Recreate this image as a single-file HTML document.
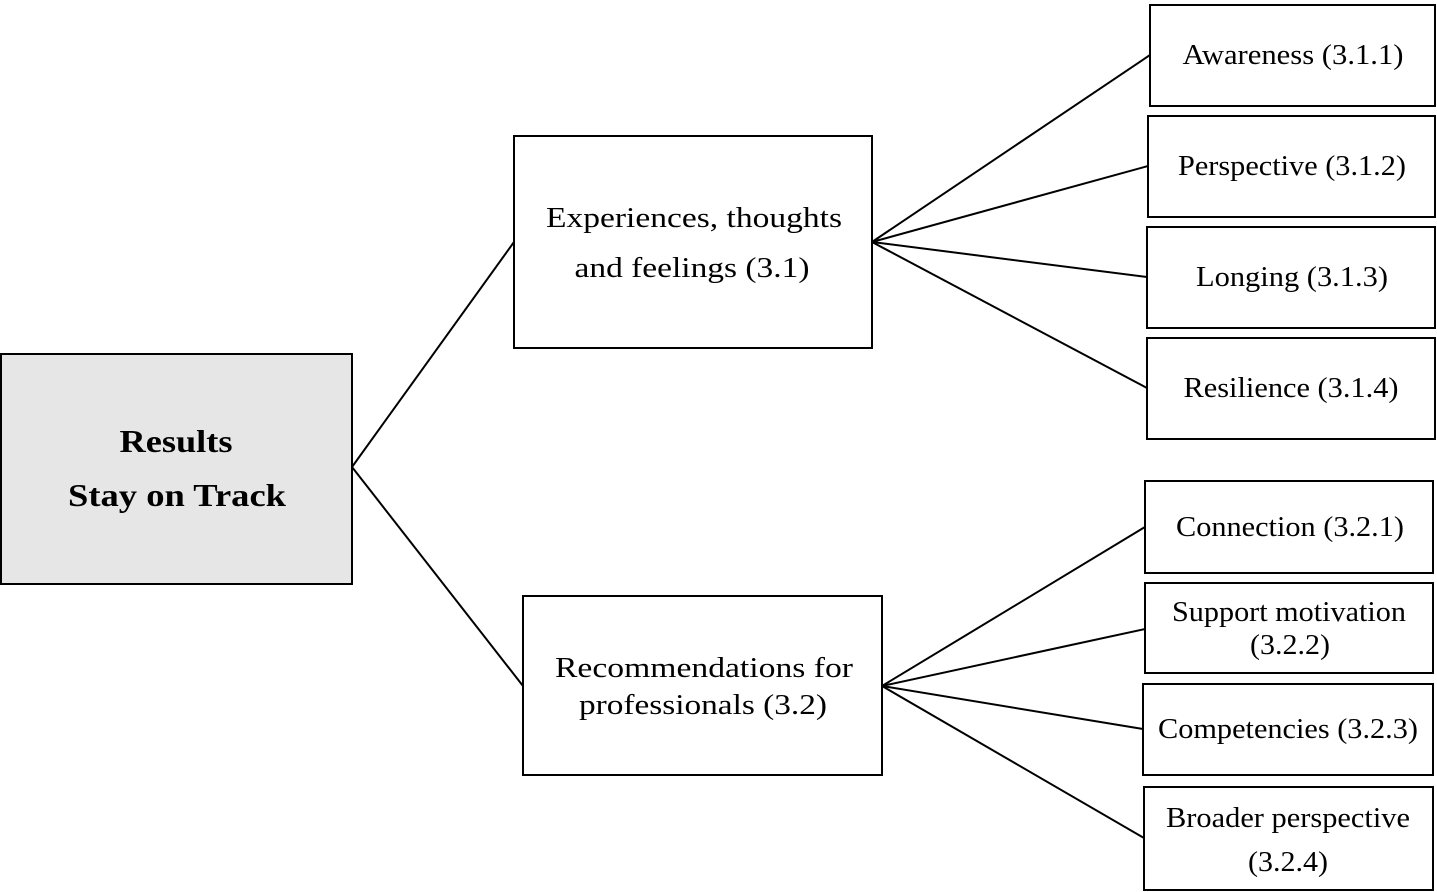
<!DOCTYPE html>
<html><head><meta charset="utf-8"><style>
html,body{margin:0;padding:0;background:#fff;}
svg{display:block;}
text{font-family:"Liberation Serif",serif;font-size:28px;fill:#000;}
</style></head><body>
<svg width="1437" height="892" viewBox="0 0 1437 892" xmlns="http://www.w3.org/2000/svg">
<g stroke="#000" stroke-width="2" fill="none">
<line x1="352" y1="467" x2="514" y2="242"/>
<line x1="352" y1="467" x2="523" y2="686"/>
<line x1="872" y1="242" x2="1150" y2="55"/>
<line x1="872" y1="242" x2="1148" y2="166"/>
<line x1="872" y1="242" x2="1147" y2="277"/>
<line x1="872" y1="242" x2="1147" y2="388"/>
<line x1="882" y1="686" x2="1145" y2="527"/>
<line x1="882" y1="686" x2="1145" y2="629"/>
<line x1="882" y1="686" x2="1143" y2="729"/>
<line x1="882" y1="686" x2="1144" y2="838"/>
</g>
<g stroke="#000" stroke-width="2">
<rect x="1" y="354" width="351" height="230" fill="#e6e6e6"/>
<rect x="514" y="136" width="358" height="212" fill="#fff"/>
<rect x="523" y="596" width="359" height="179" fill="#fff"/>
<rect x="1150" y="5" width="285" height="101" fill="#fff"/>
<rect x="1148" y="116" width="287" height="101" fill="#fff"/>
<rect x="1147" y="227" width="288" height="101" fill="#fff"/>
<rect x="1147" y="338" width="288" height="101" fill="#fff"/>
<rect x="1145" y="481" width="288" height="92" fill="#fff"/>
<rect x="1145" y="583" width="288" height="90" fill="#fff"/>
<rect x="1143" y="684" width="290" height="91" fill="#fff"/>
<rect x="1144" y="787" width="289" height="103" fill="#fff"/>
</g>
<g text-anchor="middle" lengthAdjust="spacingAndGlyphs">
<text x="176" y="452" style="font-weight:bold;font-size:32px" textLength="113" lengthAdjust="spacingAndGlyphs">Results</text>
<text x="177" y="506" style="font-weight:bold;font-size:32px" textLength="218" lengthAdjust="spacingAndGlyphs">Stay on Track</text>
<text x="694" y="227" textLength="296" lengthAdjust="spacingAndGlyphs">Experiences, thoughts</text>
<text x="692" y="277" textLength="235" lengthAdjust="spacingAndGlyphs">and feelings (3.1)</text>
<text x="704" y="677" textLength="298" lengthAdjust="spacingAndGlyphs">Recommendations for</text>
<text x="703" y="714" textLength="248" lengthAdjust="spacingAndGlyphs">professionals (3.2)</text>
<text x="1293" y="64" textLength="221" lengthAdjust="spacingAndGlyphs">Awareness (3.1.1)</text>
<text x="1292" y="175" textLength="228" lengthAdjust="spacingAndGlyphs">Perspective (3.1.2)</text>
<text x="1292" y="286" textLength="192" lengthAdjust="spacingAndGlyphs">Longing (3.1.3)</text>
<text x="1291" y="397" textLength="215" lengthAdjust="spacingAndGlyphs">Resilience (3.1.4)</text>
<text x="1290" y="536" textLength="228" lengthAdjust="spacingAndGlyphs">Connection (3.2.1)</text>
<text x="1289" y="621" textLength="234" lengthAdjust="spacingAndGlyphs">Support motivation</text>
<text x="1290" y="654" textLength="80" lengthAdjust="spacingAndGlyphs">(3.2.2)</text>
<text x="1288" y="738" textLength="260" lengthAdjust="spacingAndGlyphs">Competencies (3.2.3)</text>
<text x="1288" y="827" textLength="244" lengthAdjust="spacingAndGlyphs">Broader perspective</text>
<text x="1288" y="871" textLength="80" lengthAdjust="spacingAndGlyphs">(3.2.4)</text>
</g>
</svg>
</body></html>
